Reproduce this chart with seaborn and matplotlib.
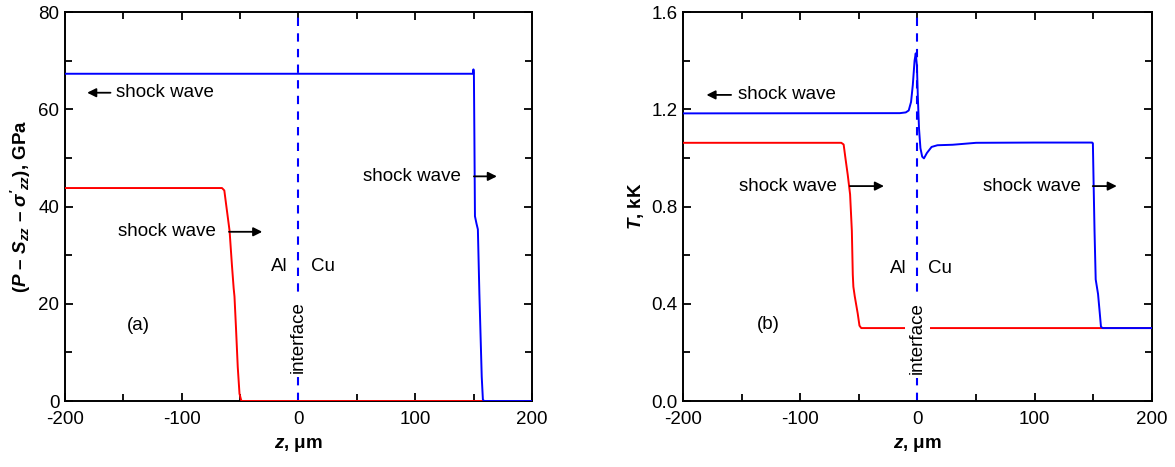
import numpy as np
import pandas as pd
import matplotlib
matplotlib.use('Agg')
import matplotlib.pyplot as plt
import seaborn as sns
from matplotlib.ticker import MultipleLocator, FormatStrFormatter

'''
Data read off the picture
'''

# (a) pressure profiles, z in um, P in GPa
p_red_z = [-200, -65.5, -63.5, -62, -59, -57, -55.5, -54.8, -53.5, -52, -50.5, -49, -48, 200]
p_red_v = [43.8, 43.8, 43.3, 40.5, 35, 28, 23.2, 21.5, 15, 7, 1.5, 0.1, 0, 0]

p_blue_z = [-200, 149.6, 149.9, 150.3, 150.7, 151.2, 152.5, 153.7, 155, 157, 158, 159, 200]
p_blue_v = [67.3, 67.3, 68.2, 67.3, 55, 38, 36.5, 35.3, 22, 5, 0.3, 0, 0]

# (b) temperature profiles, z in um, T in kK
t_red_z = [-200, -65, -63, -61.5, -59.5, -57.5, -56, -55.2, -54.7, -53.5, -51, -49.5, -48, 200]
t_red_v = [1.062, 1.062, 1.055, 1.0, 0.93, 0.85, 0.70, 0.52, 0.47, 0.43, 0.36, 0.31, 0.30, 0.30]

t_blue_z = [-200, -15, -10, -7.5, -5.5, -4, -2.5, -1.5, -0.5, 0.3, 1.3, 2.5, 4, 5.5, 8, 12, 17,
            30, 50, 100, 149, 149.6, 150.2, 151, 152, 153, 154, 155.5, 156.5, 158, 200]
t_blue_v = [1.183, 1.184, 1.187, 1.195, 1.23, 1.30, 1.40, 1.43, 1.38, 1.25, 1.12, 1.04, 1.005,
            0.998, 1.02, 1.045, 1.052, 1.054, 1.062, 1.063, 1.063, 1.06, 0.9, 0.7, 0.5, 0.47,
            0.44, 0.36, 0.305, 0.3, 0.3]

'''
Style
'''

sns.set_theme(style='ticks')
plt.rcParams['font.family'] = ['Liberation Sans', 'DejaVu Sans']
plt.rcParams['mathtext.fontset'] = 'custom'
plt.rcParams['mathtext.rm'] = 'Liberation Sans'
plt.rcParams['mathtext.it'] = 'Liberation Sans:italic'
plt.rcParams['mathtext.bf'] = 'Liberation Sans:bold'
plt.rcParams['mathtext.bfit'] = 'Liberation Sans:italic:bold'
plt.rcParams['axes.unicode_minus'] = False
plt.rcParams['text.color'] = 'black'
plt.rcParams['axes.labelcolor'] = 'black'

FS = 13.5
RED = '#ff0000'
BLUE = '#0000ff'


def style_axes(ax, ymax, ymajor, yminor, yfmt):
    ax.set_xlim(-200, 200)
    ax.set_ylim(0, ymax)
    ax.xaxis.set_major_locator(MultipleLocator(100))
    ax.xaxis.set_minor_locator(MultipleLocator(50))
    ax.yaxis.set_major_locator(MultipleLocator(ymajor))
    ax.yaxis.set_minor_locator(MultipleLocator(yminor))
    ax.yaxis.set_major_formatter(FormatStrFormatter(yfmt))
    ax.tick_params(which='both', direction='in', top=True, right=True,
                   width=1.3, colors='black', labelsize=FS)
    ax.tick_params(axis='x', which='both', pad=7)
    ax.tick_params(axis='y', which='both', pad=4)
    ax.tick_params(which='major', length=6)
    ax.tick_params(which='minor', length=5)
    for s in ax.spines.values():
        s.set_color('black')
        s.set_linewidth(1.4)
    ax.set_xlabel(r'$\mathbfit{z}$, μm', fontsize=FS, fontweight='bold', labelpad=6)


def arrow(ax, tail, head):
    ax.annotate('', xy=head, xytext=tail,
                arrowprops=dict(arrowstyle='-|>', color='black', lw=1.3,
                                mutation_scale=13, shrinkA=0, shrinkB=0))


def interface(ax, y):
    ax.axvline(0, color=BLUE, lw=1.5, ls=(0, (4, 3.5)), zorder=1)
    ax.text(0, y, 'interface', rotation=90, ha='center', va='center', fontsize=FS,
            bbox=dict(facecolor='white', edgecolor='none', pad=3), zorder=5)


fig = plt.figure(figsize=(11.75, 4.67), dpi=100)
ax1 = fig.add_axes([0.0553, 0.1413, 0.3974, 0.833])
ax2 = fig.add_axes([0.5813, 0.1413, 0.3991, 0.833])

'''
(a) pressure
'''
interface(ax1, 13.2)
sns.lineplot(x=p_red_z, y=p_red_v, ax=ax1, color=RED, lw=1.4, estimator=None, sort=False, zorder=3)
sns.lineplot(x=p_blue_z, y=p_blue_v, ax=ax1, color=BLUE, lw=1.4, estimator=None, sort=False, zorder=3)
style_axes(ax1, 80, 20, 10, '%d')
ax1.set_ylabel(r'($\mathbfit{P}$ – $\mathbfit{S}_{\mathbfit{zz}}$ – '
               r"$\mathbfit{\sigma'}_{\mathbfit{zz}}$), GPa",
               fontsize=FS, fontweight='bold', labelpad=4)

ax1.text(-156, 63.4, 'shock wave', fontsize=FS, va='center', ha='left')
arrow(ax1, (-161, 63.4), (-181, 63.4))
ax1.text(-155, 34.8, 'shock wave', fontsize=FS, va='center', ha='left')
arrow(ax1, (-59.5, 34.8), (-31, 34.8))
ax1.text(139, 46.2, 'shock wave', fontsize=FS, va='center', ha='right')
arrow(ax1, (150.3, 46.2), (170, 46.2))
ax1.text(-16.7, 27.6, 'Al', fontsize=FS, va='center', ha='center')
ax1.text(21, 27.6, 'Cu', fontsize=FS, va='center', ha='center')
ax1.text(-137.5, 15.6, '(a)', fontsize=FS, va='center', ha='center')

'''
(b) temperature
'''
interface(ax2, 0.258)
sns.lineplot(x=t_red_z, y=t_red_v, ax=ax2, color=RED, lw=1.4, estimator=None, sort=False, zorder=3)
sns.lineplot(x=t_blue_z, y=t_blue_v, ax=ax2, color=BLUE, lw=1.4, estimator=None, sort=False, zorder=3)
style_axes(ax2, 1.6, 0.4, 0.2, '%.1f')
ax2.set_ylabel(r'$\mathbfit{T}$, kK', fontsize=FS, fontweight='bold', labelpad=4)

ax2.text(-153, 1.259, 'shock wave', fontsize=FS, va='center', ha='left')
arrow(ax2, (-159, 1.259), (-180, 1.259))
ax2.text(-69, 0.884, 'shock wave', fontsize=FS, va='center', ha='right')
arrow(ax2, (-57.6, 0.884), (-28.6, 0.884))
ax2.text(139, 0.884, 'shock wave', fontsize=FS, va='center', ha='right')
arrow(ax2, (149.5, 0.884), (170, 0.884))
ax2.text(-16.7, 0.547, 'Al', fontsize=FS, va='center', ha='center')
ax2.text(19, 0.547, 'Cu', fontsize=FS, va='center', ha='center')
ax2.text(-127.5, 0.313, '(b)', fontsize=FS, va='center', ha='center')

fig.savefig('out.png', dpi=100)
